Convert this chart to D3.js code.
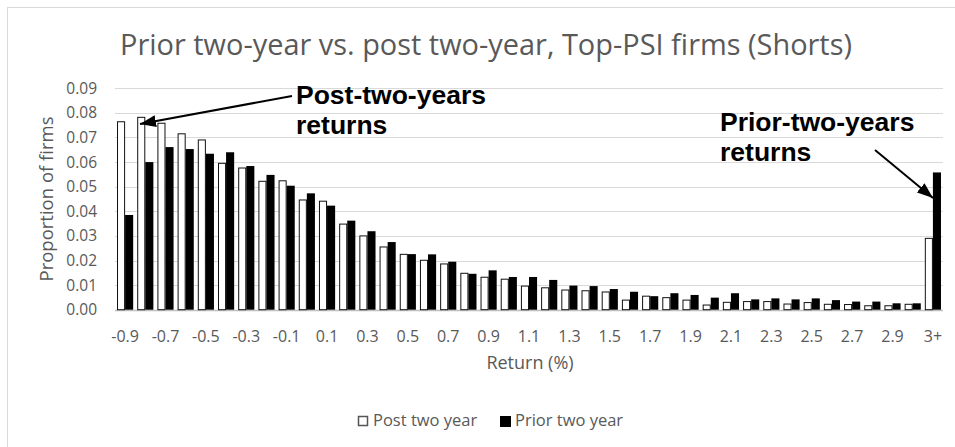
<!DOCTYPE html>
<html><head><meta charset="utf-8">
<script src="https://cdn.jsdelivr.net/npm/d3@7"></script>
<style>body{margin:0;background:#fff}svg{display:block}</style>
</head><body>
<svg id="c" width="955" height="447"></svg>
<script>
const categories = ["-0.9","-0.8","-0.7","-0.6","-0.5","-0.4","-0.3","-0.2","-0.1","0","0.1","0.2","0.3","0.4","0.5","0.6","0.7","0.8","0.9","1","1.1","1.2","1.3","1.4","1.5","1.6","1.7","1.8","1.9","2","2.1","2.2","2.3","2.4","2.5","2.6","2.7","2.8","2.9","3","3+"];
const tickLabels = ["-0.9","-0.7","-0.5","-0.3","-0.1","0.1","0.3","0.5","0.7","0.9","1.1","1.3","1.5","1.7","1.9","2.1","2.3","2.5","2.7","2.9","3+"];
const postTwoYear = [0.0764,0.0782,0.0758,0.0715,0.0690,0.0595,0.0576,0.0522,0.0524,0.0446,0.0441,0.0348,0.0300,0.0255,0.0225,0.0201,0.0186,0.0148,0.0132,0.0124,0.0096,0.0089,0.0080,0.0077,0.0072,0.0039,0.0055,0.0049,0.0039,0.0019,0.0030,0.0033,0.0033,0.0023,0.0029,0.0022,0.0021,0.0016,0.0016,0.0022,0.0290];
const priorTwoYear = [0.0385,0.0600,0.0661,0.0653,0.0634,0.0640,0.0584,0.0548,0.0504,0.0473,0.0423,0.0362,0.0319,0.0275,0.0226,0.0225,0.0195,0.0146,0.0160,0.0133,0.0133,0.0121,0.0098,0.0096,0.0084,0.0073,0.0055,0.0067,0.0060,0.0049,0.0067,0.0042,0.0046,0.0042,0.0046,0.0039,0.0033,0.0033,0.0026,0.0026,0.0558];
const yTicks = [0,0.01,0.02,0.03,0.04,0.05,0.06,0.07,0.08,0.09];
const seriesNames = ["Post two year","Prior two year"];

const svg = d3.select("#c");
const grey = "#595959";
const font = "'Open Sans', sans-serif";

svg.append("rect").attr("x",7.5).attr("y",7.5).attr("width",970).attr("height",460)
  .attr("fill","#fff").attr("stroke","#d9d9d9");

const x = d3.scaleBand().domain(categories).range([115,943]).paddingInner(0.2).paddingOuter(0.1);
const xs = d3.scaleBand().domain(seriesNames).range([0,x.bandwidth()]);
const y = d3.scaleLinear().domain([0,0.09]).range([309.7,88.3]);

// gridlines
svg.append("g").selectAll("line").data(yTicks).join("line")
  .attr("x1",115).attr("x2",943)
  .attr("y1",d=>Math.round(y(d))+0.5).attr("y2",d=>Math.round(y(d))+0.5)
  .attr("stroke",d=>d===0?"#bfbfbf":"#d9d9d9").attr("stroke-width",d=>d===0?1.5:1.2);

// y labels
svg.append("g").selectAll("text").data(yTicks).join("text")
  .attr("x",97).attr("y",d=>y(d)).attr("dy","0.35em").attr("text-anchor","end")
  .attr("font-family",font).attr("font-size",15.5).attr("fill",grey)
  .text(d=>d3.format(".2f")(d));

// x labels
svg.append("g").selectAll("text").data(tickLabels).join("text")
  .attr("x",d=>x(d)+x.bandwidth()/2).attr("y",341.5).attr("text-anchor","middle")
  .attr("font-family",font).attr("font-size",16).attr("fill",grey)
  .text(d=>d);

// bars
const gb = svg.append("g");
gb.selectAll("rect.post").data(categories).join("rect").attr("class","post")
  .attr("x",(d)=>x(d)+xs(seriesNames[0])+0.5)
  .attr("width",xs.bandwidth()-1)
  .attr("y",(d,i)=>y(postTwoYear[i]))
  .attr("height",(d,i)=>y(0)-y(postTwoYear[i]))
  .attr("fill","#fff").attr("stroke","#111").attr("stroke-width",1);
gb.selectAll("rect.prior").data(categories).join("rect").attr("class","prior")
  .attr("x",(d)=>x(d)+xs(seriesNames[1]))
  .attr("width",xs.bandwidth())
  .attr("y",(d,i)=>y(priorTwoYear[i]))
  .attr("height",(d,i)=>y(0)-y(priorTwoYear[i]))
  .attr("fill","#000");

// title
svg.append("text").attr("x",120).attr("y",55)
  .attr("font-family",font).attr("font-size",29).attr("fill",grey)
  .attr("textLength",732).attr("lengthAdjust","spacingAndGlyphs")
  .text("Prior two-year vs. post two-year, Top-PSI firms (Shorts)");

// axis titles
svg.append("text").attr("x",530).attr("y",369).attr("text-anchor","middle")
  .attr("font-family",font).attr("font-size",18).attr("fill",grey).text("Return (%)");
svg.append("text").attr("transform","translate(53,199) rotate(-90)").attr("text-anchor","middle")
  .attr("font-family",font).attr("font-size",18.5).attr("fill",grey).text("Proportion of firms");

// legend
const leg = svg.append("g");
leg.append("rect").attr("x",358.5).attr("y",416.5).attr("width",9).attr("height",9)
  .attr("fill","#fff").attr("stroke","#555").attr("stroke-width",1.5);
leg.append("text").attr("x",373).attr("y",426).attr("font-family",font).attr("font-size",16.5).attr("fill",grey).text(seriesNames[0]);
leg.append("rect").attr("x",500).attr("y",416).attr("width",11).attr("height",11).attr("fill","#000");
leg.append("text").attr("x",515).attr("y",426).attr("font-family",font).attr("font-size",16.5).attr("fill",grey).text(seriesNames[1]);

// annotations
svg.append("defs").append("marker").attr("id","ah").attr("markerUnits","userSpaceOnUse")
  .attr("viewBox","0 0 16 12").attr("refX",16).attr("refY",6)
  .attr("markerWidth",16).attr("markerHeight",12).attr("orient","auto")
  .append("path").attr("d","M0,0 L16,6 L0,12 Z").attr("fill","#000");
const af = "'Liberation Sans', Arial, sans-serif";
svg.append("line").attr("x1",292).attr("y1",96).attr("x2",140).attr("y2",124)
  .attr("stroke","#000").attr("stroke-width",2).attr("marker-end","url(#ah)");
svg.append("line").attr("x1",875).attr("y1",150).attr("x2",933).attr("y2",198)
  .attr("stroke","#000").attr("stroke-width",2).attr("marker-end","url(#ah)");
const a1 = svg.append("text").attr("font-family",af).attr("font-weight","bold").attr("font-size",26.5).attr("fill","#000");
a1.append("tspan").attr("x",296).attr("y",104).text("Post-two-years");
a1.append("tspan").attr("x",296).attr("y",134).text("returns");
const a2 = svg.append("text").attr("font-family",af).attr("font-weight","bold").attr("font-size",26.5).attr("fill","#000");
a2.append("tspan").attr("x",720).attr("y",131).text("Prior-two-years");
a2.append("tspan").attr("x",720).attr("y",161).text("returns");
</script>
</body></html>
